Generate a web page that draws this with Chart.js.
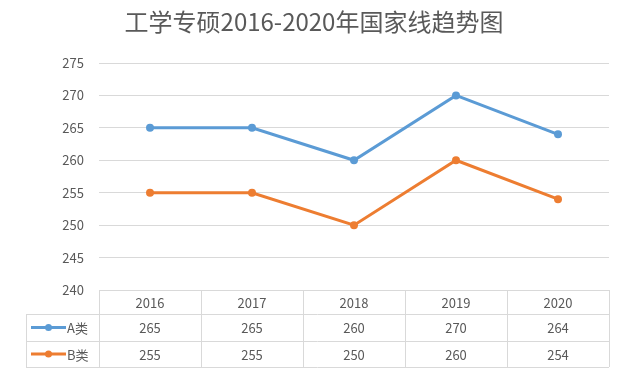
<!DOCTYPE html>
<html>
<head>
<meta charset="utf-8">
<script src="https://cdn.jsdelivr.net/npm/chart.js"></script>
<style>
    html, body { margin: 0; padding: 0; background: #fff; }
    #wrap { width: 622px; height: 374px; }
</style>
</head>
<body>
<div id="wrap"><canvas id="lineChart" width="622" height="374"></canvas></div>
<script>
// data
const years = ['2016', '2017', '2018', '2019', '2020'];
const seriesA = [265, 265, 260, 270, 264];
const seriesB = [255, 255, 250, 260, 254];
const seriesNames = ['A类', 'B类'];
const chartTitle = '工学专硕2016-2020年国家线趋势图';
const yMin = 240, yMax = 275, yStep = 5;

const txtColor = '#595959';
const gridColor = '#d9d9d9';
const blue = '#5b9bd5';
const orange = '#ed7d31';
const font = "'Noto Sans CJK SC', 'Noto Sans', sans-serif";

// title centred on the whole canvas + data table under the plot
const dataTable = {
    id: 'dataTable',
    afterDraw(chart) {
        const ctx = chart.ctx;
        const xs = chart.scales.x;
        const area = chart.chartArea;
        const colW = (area.right - area.left) / years.length;
        const top = area.bottom;
        const rows = [top, top + 24, top + 51, top + 77];
        const leftX = 26;

        ctx.save();
        ctx.font = '24px ' + font;
        ctx.fillStyle = txtColor;
        ctx.textAlign = 'center';
        ctx.textBaseline = 'middle';
        ctx.fillText(chartTitle, 314, 22);

        ctx.strokeStyle = gridColor;
        ctx.lineWidth = 1;
        ctx.beginPath();
        // horizontal lines
        ctx.moveTo(area.left, rows[0] + 0.5); ctx.lineTo(area.right, rows[0] + 0.5);
        for (let r = 1; r < rows.length; r++) {
            ctx.moveTo(leftX, rows[r] + 0.5); ctx.lineTo(area.right, rows[r] + 0.5);
        }
        // vertical lines
        ctx.moveTo(leftX + 0.5, rows[1]); ctx.lineTo(leftX + 0.5, rows[3]);
        for (let i = 0; i <= years.length; i++) {
            const x = Math.round(area.left + i * colW) + 0.5;
            ctx.moveTo(x, rows[0]); ctx.lineTo(x, rows[3]);
        }
        ctx.stroke();

        ctx.font = '13px ' + font;
        const vals = [seriesA, seriesB];
        years.forEach((y, i) => {
            const cx = xs.getPixelForValue(i);
            ctx.fillText(y, cx, (rows[0] + rows[1]) / 2 + 1);
            ctx.fillText(String(vals[0][i]), cx, (rows[1] + rows[2]) / 2 + 1);
            ctx.fillText(String(vals[1][i]), cx, (rows[2] + rows[3]) / 2 + 1);
        });

        // legend keys
        const colors = [blue, orange];
        seriesNames.forEach((name, r) => {
            const cy = (rows[r + 1] + rows[r + 2]) / 2;
            ctx.strokeStyle = colors[r];
            ctx.fillStyle = colors[r];
            ctx.lineWidth = 3;
            ctx.beginPath();
            ctx.moveTo(31, cy); ctx.lineTo(66, cy);
            ctx.stroke();
            ctx.beginPath();
            ctx.arc(48.5, cy, 3.5, 0, Math.PI * 2);
            ctx.fill();
            ctx.fillStyle = txtColor;
            ctx.textAlign = 'left';
            ctx.fillText(name, 67, cy + 1);
        });
        ctx.restore();
    }
};

const ctx = document.getElementById('lineChart').getContext('2d');
new Chart(ctx, {
    type: 'line',
    data: {
        labels: years,
        datasets: [
            {
                label: seriesNames[0],
                data: seriesA,
                borderColor: blue,
                backgroundColor: blue,
                borderWidth: 3,
                pointRadius: 4,
                pointBackgroundColor: blue,
                pointBorderWidth: 0,
                tension: 0
            },
            {
                label: seriesNames[1],
                data: seriesB,
                borderColor: orange,
                backgroundColor: orange,
                borderWidth: 3,
                pointRadius: 4,
                pointBackgroundColor: orange,
                pointBorderWidth: 0,
                tension: 0
            }
        ]
    },
    options: {
        responsive: false,
        animation: false,
        devicePixelRatio: 1,
        layout: { padding: { left: 0, right: 13, top: 63, bottom: 84 } },
        plugins: {
            legend: { display: false },
            tooltip: { enabled: false },
            title: { display: false }
        },
        scales: {
            x: {
                display: false,
                offset: true
            },
            y: {
                min: yMin,
                max: yMax,
                afterFit(s) { s.width = 99; },
                border: { display: false },
                grid: { color: gridColor, drawTicks: false },
                ticks: {
                    stepSize: yStep,
                    padding: 15,
                    color: txtColor,
                    font: { size: 13, family: font }
                }
            }
        }
    },
    plugins: [dataTable]
});
</script>
</body>
</html>
